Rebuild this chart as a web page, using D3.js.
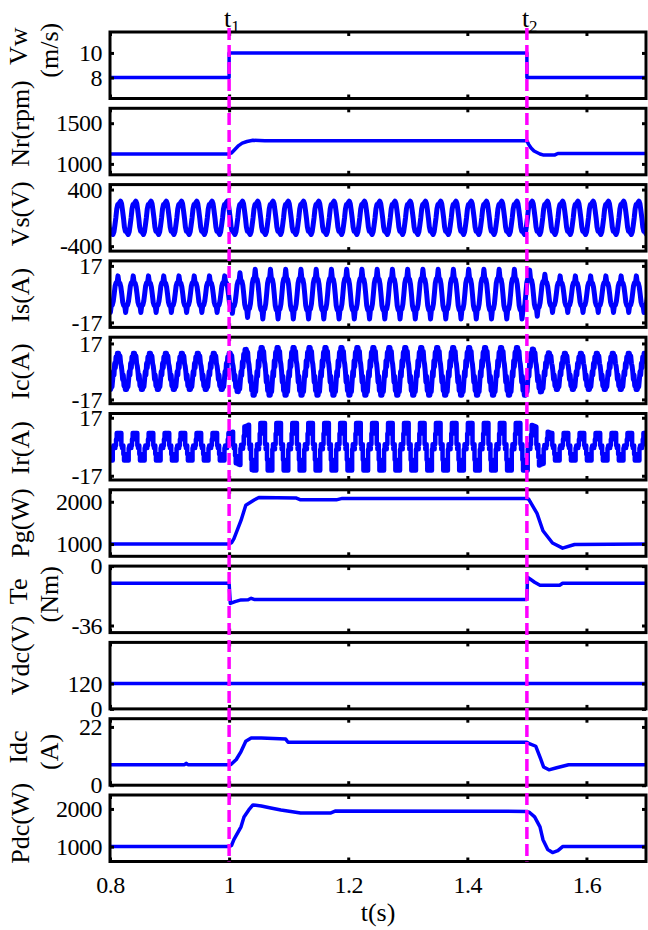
<!DOCTYPE html>
<html>
<head>
<meta charset="utf-8">
<script src="https://cdn.jsdelivr.net/npm/d3@7"></script>
<style>
body { margin: 0; background: #fff; }
text { font-family: "Liberation Serif", "Times New Roman", serif; fill: #000; }
</style>
</head>
<body>
<svg width="648" height="930"></svg>
<script>
// --- data ---
const xTicks = [0.8, 1.0, 1.2, 1.4, 1.6];
const tEvents = [1.0, 1.5];
const eventLabels = ["1", "2"];

// step-like traces: [t, value]
const vwData = [[0.8, 8], [1.0, 8], [1.0, 10], [1.5, 10], [1.5, 8], [1.7, 8]];
const nrData = [[0.8, 1122], [1.0, 1122], [1.004, 1135], [1.01, 1180], [1.016, 1225], [1.022, 1255], [1.03, 1275],
  [1.04, 1290], [1.06, 1285], [1.5, 1285], [1.503, 1240], [1.507, 1195], [1.512, 1158], [1.522, 1122],
  [1.527, 1110], [1.547, 1110], [1.552, 1128], [1.7, 1128]];
const pgData = [[0.8, 1000], [1.0, 1000], [1.004, 1030], [1.008, 1121], [1.02, 1557], [1.028, 1920], [1.042, 2041],
  [1.05, 2100], [1.112, 2090], [1.12, 2045], [1.18, 2045], [1.19, 2080], [1.5, 2075], [1.503, 2060],
  [1.517, 1726], [1.527, 1315], [1.543, 1024], [1.56, 903], [1.58, 990], [1.7, 1000]];
const teData = [[0.8, -10.4], [1.0, -10.4], [1.002, -22.6], [1.01, -21.5], [1.02, -20.5], [1.032, -20.4],
  [1.037, -19.5], [1.042, -20.2], [1.5, -20.2], [1.501, -6.7], [1.513, -9.8], [1.522, -11.6], [1.555, -11.6],
  [1.56, -10.4], [1.7, -10.4]];
const vdcData = [[0.8, 120], [1.7, 120]];
const idcData = [[0.8, 7.7], [0.925, 7.7], [0.928, 8.3], [0.931, 7.7], [1.0, 7.7], [1.003, 7.8], [1.012, 9.7],
  [1.02, 12.7], [1.028, 16.6], [1.037, 17.8], [1.054, 17.8], [1.095, 17.4], [1.099, 16.2], [1.5, 16.2],
  [1.503, 15.8], [1.515, 14.7], [1.523, 10], [1.528, 6.9], [1.537, 5.8], [1.55, 6.6], [1.57, 7.7], [1.7, 7.7]];
const pdcData = [[0.8, 1000], [1.0, 1000], [1.004, 1030], [1.008, 1184], [1.02, 1526], [1.025, 1789], [1.033, 1974],
  [1.04, 2105], [1.054, 2079], [1.07, 2026], [1.087, 1974], [1.12, 1895], [1.171, 1895], [1.179, 1947],
  [1.5, 1935], [1.505, 1900], [1.513, 1789], [1.522, 1526], [1.527, 1184], [1.535, 921], [1.543, 842],
  [1.552, 895], [1.56, 1000], [1.7, 1000]];

// oscillating traces: one cycle shape (normalised) + envelope breakpoints
const vsShape = [0, 0.55, 0.8, 0.78, 0.92, 1.0, 0.85, 0.45, 0, -0.55, -0.8, -0.78, -0.92, -1.0, -0.85, -0.45];
const isShape = [0, 0.45, 0.62, 0.6, 1.0, 0.62, 0.6, 0.4, 0, -0.45, -0.62, -0.6, -1.0, -0.62, -0.6, -0.4];
const icShape = [0, -0.2, 0.45, 0.2, 0.8, 0.55, 1.0, 0.75, 1.0, 0.7, 0.85, 0.45, 0.3, 0, -0.45, -0.2, -0.8, -0.55,
  -1.0, -0.75, -1.0, -0.7, -0.85, -0.45];
const irShape = [0.1, -0.1, 0.1, 0.55, 1, 0.55, 1, 0.55, 1, 0.55, 1, 0.1, -0.1, 0.1, -0.55, -1, -0.55, -1, -0.55,
  -1, -0.55, -1, -0.1, 0.1];
const envT = [0.8, 1.0, 1.04, 1.5, 1.54, 1.7];
const vsEnv = [235, 235, 235, 235, 235, 235];
const isEnv = [11, 11, 15, 15, 11, 11];
const icEnv = [11, 11, 14.5, 14.5, 11, 11];
const irEnv = [8, 8, 14, 14, 8, 8];
const wavePeriod = { vs: 0.0256, is: 0.0256, ic: 0.0268, ir: 0.0268 };
const waveStart = { vs: 0.7842, is: 0.7814, ic: 0.7788, ir: 0.780 };

function buildWave(shape, period, t0, env) {
  const amp = d3.scaleLinear().domain(envT).range(env).clamp(true);
  const dt = period / shape.length;
  const pts = [];
  for (let i = 0; t0 + i * dt <= 1.71; i++) {
    const t = t0 + i * dt;
    pts.push([t, amp(t) * shape[i % shape.length]]);
  }
  return pts;
}

// --- layout ---
const svg = d3.select("svg");
const left = 110, right = 646, top0 = 32, pitch = 76.3, ph = 66.5;
const x = d3.scaleLinear().domain([0.8, 1.7]).range([left, right]);

const panels = [
  { label: ["Vw", "(m/s)"], dy: [-19, -15], domain: [6.3, 11.7], ticks: [8, 10], data: vwData },
  { label: ["Nr(rpm)"], dy: [-18], domain: [866, 1683], ticks: [1000, 1500], data: nrData },
  { label: ["Vs(V)"], dy: [-4], domain: [-470, 470], ticks: [-400, 400],
    data: buildWave(vsShape, wavePeriod.vs, waveStart.vs, vsEnv), sw: 5 },
  { label: ["Is(A)"], dy: [1], domain: [-20, 20], ticks: [-17, 17],
    data: buildWave(isShape, wavePeriod.is, waveStart.is, isEnv), sw: 5 },
  { label: ["Ic(A)"], dy: [1], domain: [-19.6, 20.8], ticks: [-17, 17],
    data: buildWave(icShape, wavePeriod.ic, waveStart.ic, icEnv), sw: 5 },
  { label: ["Ir(A)"], dy: [1], domain: [-19.5, 19.5], ticks: [-17, 17],
    data: buildWave(irShape, wavePeriod.ir, waveStart.ir, irEnv), sw: 4.5, step: true },
  { label: ["Pg(W)"], dy: [0], domain: [710, 2283], ticks: [1000, 2000], data: pgData },
  { label: ["Te", "(Nm)"], dy: [-8, -5], domain: [-40.3, 0], ticks: [-36, 0], data: teData },
  { label: ["Vdc(V)"], dy: [-20], domain: [0, 315], ticks: [0, 120], data: vdcData },
  { label: ["Idc", "(A)"], dy: [-5, 0], domain: [0, 25.1], ticks: [0, 22], data: idcData },
  { label: ["Pdc(W)"], dy: [-5], domain: [605, 2370], ticks: [1000, 2000], data: pdcData }
];

const fmt = d => String(d);

panels.forEach((p, i) => {
  const top = top0 + i * pitch;
  const y = d3.scaleLinear().domain(p.domain).range([top + ph, top]);
  const g = svg.append("g");

  g.append("clipPath").attr("id", "clip" + i)
    .append("rect").attr("x", left).attr("y", top).attr("width", right - left).attr("height", ph);

  const line = d3.line().x(d => x(d[0])).y(d => y(d[1]));
  if (p.step) line.curve(d3.curveStepAfter);
  g.append("path").datum(p.data)
    .attr("clip-path", `url(#clip${i})`)
    .attr("d", line)
    .attr("fill", "none")
    .attr("stroke", "#0000ff")
    .attr("stroke-width", p.sw || 3.5)
    .attr("stroke-linejoin", "round");

  // axes with inward ticks on all four sides
  const ax = [
    g.append("g").attr("transform", `translate(${left},0)`)
      .call(d3.axisLeft(y).tickValues(p.ticks).tickSizeInner(-4).tickSizeOuter(0).tickPadding(8).tickFormat(fmt)),
    g.append("g").attr("transform", `translate(${right},0)`)
      .call(d3.axisRight(y).tickValues(p.ticks).tickSizeInner(-4).tickSizeOuter(0).tickFormat("")),
    g.append("g").attr("transform", `translate(0,${top})`)
      .call(d3.axisTop(x).tickValues(xTicks).tickSizeInner(-4).tickSizeOuter(0).tickFormat("")),
    g.append("g").attr("transform", `translate(0,${top + ph})`)
      .call(d3.axisBottom(x).tickValues(xTicks).tickSizeInner(-4).tickSizeOuter(0).tickPadding(14)
        .tickFormat(i === panels.length - 1 ? fmt : ""))
  ];
  ax.forEach(a => {
    a.select(".domain").remove();
    a.selectAll(".tick line").attr("stroke", "#000").attr("stroke-width", 3);
    a.selectAll(".tick text").style("font-family", '"Liberation Serif", serif').style("font-size", "24px")
      .style("letter-spacing", "-0.5px").attr("fill", "#000");
  });

  g.append("rect").attr("x", left).attr("y", top).attr("width", right - left).attr("height", ph)
    .attr("fill", "none").attr("stroke", "#000").attr("stroke-width", 3);

  // y label (rotated)
  const cx = p.label.length === 1 ? [20] : [18, 49];
  p.label.forEach((s, k) => {
    g.append("text")
      .attr("transform", `translate(${cx[k]},${top + ph / 2 + p.dy[k]}) rotate(-90)`)
      .attr("text-anchor", "middle")
      .attr("dominant-baseline", "central")
      .style("font-size", "26px")
      .text(s);
  });
});

// event markers t1, t2
const lastBottom = top0 + (panels.length - 1) * pitch + ph;
tEvents.forEach((t, k) => {
  svg.append("line")
    .attr("x1", x(t)).attr("x2", x(t))
    .attr("y1", 28).attr("y2", lastBottom)
    .attr("stroke", "#ff00ff").attr("stroke-width", 3.5)
    .attr("stroke-dasharray", "12,5");
  const lbl = svg.append("text").attr("x", x(t) - 5).attr("y", 27).style("font-size", "26px");
  lbl.append("tspan").text("t");
  lbl.append("tspan").attr("dy", 5).style("font-size", "17px").text(eventLabels[k]);
});

// x axis title
svg.append("text").attr("x", x(1.25)).attr("y", 912)
  .attr("text-anchor", "middle").attr("dominant-baseline", "central")
  .style("font-size", "26px").text("t(s)");
</script>
</body>
</html>
